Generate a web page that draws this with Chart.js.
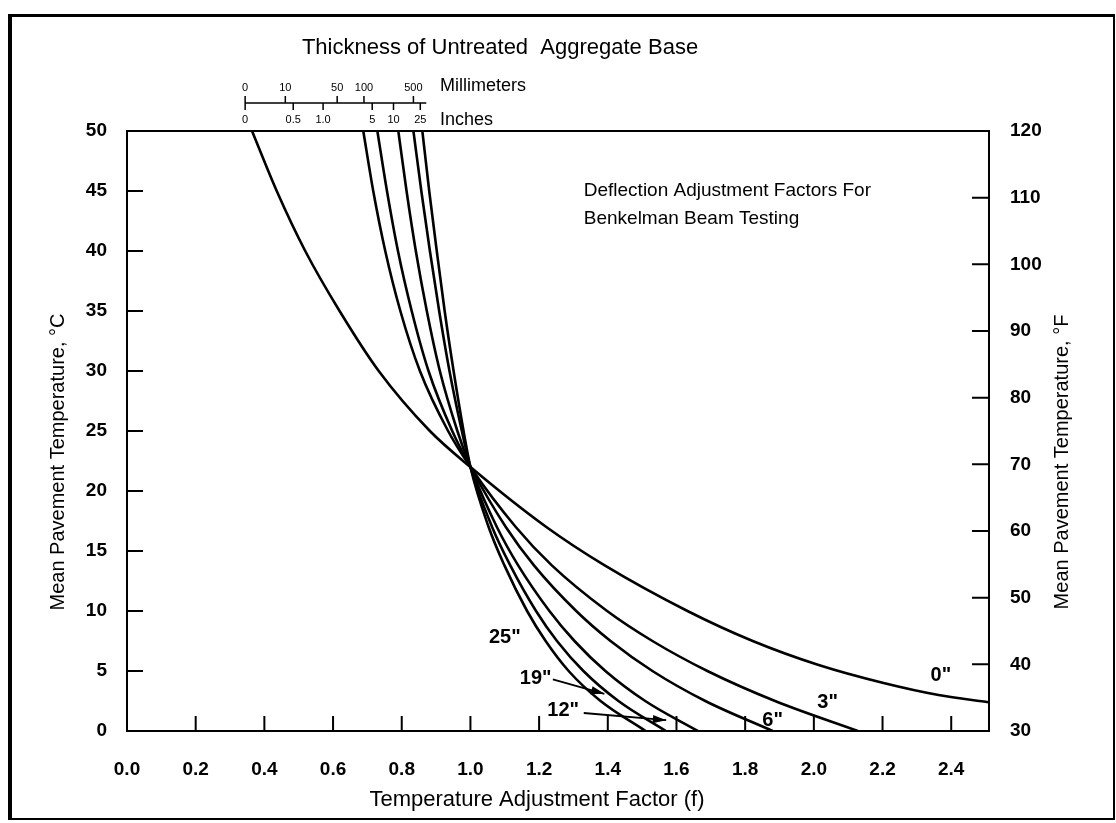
<!DOCTYPE html>
<html>
<head>
<meta charset="utf-8">
<script src="https://cdn.jsdelivr.net/npm/chart.js@4.4.1/dist/chart.umd.min.js"></script>
<style>
  html, body { margin: 0; padding: 0; background: #fff; }
  #wrap { position: relative; width: 1116px; height: 823px; overflow: hidden; }
  #frame {
    position: absolute; left: 8px; top: 14px; right: 1px; bottom: 3px;
    border-left: 4px solid #000; border-top: 3px solid #000;
    border-right: 2px solid #000; border-bottom: 2px solid #000;
    pointer-events: none;
  }
</style>
</head>
<body>
<div id="wrap">
  <canvas id="chart" width="1116" height="823"></canvas>
  <div id="frame"></div>
</div>
<script>
// temperature (deg C) against adjustment factor
const temps0 = [50, 45, 40, 35, 30, 25, 22, 17, 13.8, 10, 7.5, 5.5, 4, 3, 2.4];
const factor0 = [0.364, 0.436, 0.519, 0.619, 0.733, 0.882, 1.0, 1.221, 1.391, 1.632, 1.822, 2.014, 2.203, 2.363, 2.509];

const temps = [50, 45, 40, 35, 30, 25, 22, 17, 13.8, 10, 7.5, 5, 2.5, 0];
const factor3 = [0.688, 0.717, 0.752, 0.796, 0.853, 0.935, 1.0, 1.132, 1.237, 1.398, 1.53, 1.69, 1.887, 2.128];
const factor6 = [0.729, 0.757, 0.789, 0.829, 0.878, 0.947, 1.0, 1.103, 1.185, 1.308, 1.408, 1.53, 1.684, 1.88];
const factor12 = [0.79, 0.814, 0.841, 0.873, 0.911, 0.962, 1.0, 1.077, 1.139, 1.23, 1.303, 1.393, 1.509, 1.662];
const factor19 = [0.834, 0.857, 0.882, 0.909, 0.939, 0.975, 1.0, 1.063, 1.116, 1.191, 1.252, 1.329, 1.431, 1.569];
const factor25 = [0.86, 0.88, 0.902, 0.925, 0.951, 0.98, 1.0, 1.053, 1.099, 1.165, 1.219, 1.286, 1.379, 1.51];

const thicknesses = ['0"', '3"', '6"', '12"', '19"', '25"'];

// thickness nomograph above the plot (labels and the factor they sit over)
const mmLabels = ['0', '10', '50', '100', '500'];
const mmAt = [0.344, 0.461, 0.612, 0.69, 0.834];
const inchLabels = ['0', '0.5', '1.0', '5', '10', '25'];
const inchAt = [0.344, 0.484, 0.571, 0.714, 0.776, 0.854];

function series(t, f) {
  return t.map(function (v, i) { return { x: f[i], y: v }; });
}

const curves = [
  series(temps0, factor0),
  series(temps, factor3),
  series(temps, factor6),
  series(temps, factor12),
  series(temps, factor19),
  series(temps, factor25),
];

const FONT = '"Liberation Sans", Arial, sans-serif';

const decor = {
  id: 'decor',
  afterDatasetsDraw(chart) {
    const { ctx, chartArea: a, scales } = chart;
    const x = scales.x, y = scales.y, y2 = scales.y2;
    ctx.save();
    ctx.strokeStyle = '#000';
    ctx.fillStyle = '#000';
    ctx.lineWidth = 2;

    // top edge of the frame
    ctx.beginPath();
    ctx.moveTo(a.left, a.top);
    ctx.lineTo(a.right + 1, a.top);
    ctx.stroke();

    // inward tick marks
    ctx.beginPath();
    x.ticks.forEach(function (t) {
      if (t.value <= x.min) return;
      const px = x.getPixelForValue(t.value);
      ctx.moveTo(px, a.bottom);
      ctx.lineTo(px, a.bottom - 15);
    });
    y.ticks.forEach(function (t) {
      if (t.value <= y.min || t.value >= y.max) return;
      const py = y.getPixelForValue(t.value);
      ctx.moveTo(a.left, py);
      ctx.lineTo(a.left + 16, py);
    });
    y2.ticks.forEach(function (t) {
      if (t.value <= y2.min || t.value >= y2.max) return;
      const py = y2.getPixelForValue(t.value);
      ctx.moveTo(a.right, py);
      ctx.lineTo(a.right - 17, py);
    });
    ctx.stroke();

    // titles
    ctx.textBaseline = 'middle';
    ctx.textAlign = 'center';
    ctx.font = '22px ' + FONT;
    ctx.fillText('Thickness of Untreated  Aggregate Base', 500, 48);
    ctx.fillText('Temperature Adjustment Factor (f)', 537, 800);

    ctx.font = '20px ' + FONT;
    ctx.save();
    ctx.translate(58, 462);
    ctx.rotate(-Math.PI / 2);
    ctx.fillText('Mean Pavement Temperature, \u00b0C', 0, 0);
    ctx.restore();
    ctx.save();
    ctx.translate(1062, 462);
    ctx.rotate(-Math.PI / 2);
    ctx.fillText('Mean Pavement Temperature, \u00b0F', 0, 0);
    ctx.restore();

    ctx.textAlign = 'left';
    ctx.font = '19px ' + FONT;
    ctx.fillText('Deflection Adjustment Factors For', x.getPixelForValue(1.33), y.getPixelForValue(45.0));
    ctx.fillText('Benkelman Beam Testing', x.getPixelForValue(1.33), y.getPixelForValue(42.7));

    // thickness nomograph
    const lineY = 103;
    ctx.lineWidth = 1.5;
    ctx.beginPath();
    ctx.moveTo(x.getPixelForValue(mmAt[0]), lineY);
    ctx.lineTo(x.getPixelForValue(inchAt[inchAt.length - 1]) + 6, lineY);
    mmAt.forEach(function (f) {
      const px = x.getPixelForValue(f);
      ctx.moveTo(px, lineY);
      ctx.lineTo(px, lineY - 7);
    });
    inchAt.forEach(function (f) {
      const px = x.getPixelForValue(f);
      ctx.moveTo(px, lineY);
      ctx.lineTo(px, lineY + 7);
    });
    ctx.stroke();
    ctx.textAlign = 'center';
    ctx.font = '11px ' + FONT;
    mmLabels.forEach(function (s, i) { ctx.fillText(s, x.getPixelForValue(mmAt[i]), lineY - 15); });
    inchLabels.forEach(function (s, i) { ctx.fillText(s, x.getPixelForValue(inchAt[i]), lineY + 17); });
    ctx.textAlign = 'left';
    ctx.font = '18px ' + FONT;
    ctx.fillText('Millimeters', 440, lineY - 17);
    ctx.fillText('Inches', 440, lineY + 17);

    // curve labels
    ctx.font = 'bold 20px ' + FONT;
    ctx.textAlign = 'center';
    const labelAt = [[2.37, 4.6], [2.04, 2.4], [1.88, 0.9], [1.27, 1.7], [1.19, 4.4], [1.1, 7.8]];
    thicknesses.forEach(function (s, i) {
      ctx.fillText(s, x.getPixelForValue(labelAt[i][0]), y.getPixelForValue(labelAt[i][1]));
    });

    // pointer arrows for 19" and 12"
    function arrow(f1, t1, f2, t2) {
      const x1 = x.getPixelForValue(f1), y1 = y.getPixelForValue(t1);
      const x2 = x.getPixelForValue(f2), y2p = y.getPixelForValue(t2);
      const ang = Math.atan2(y2p - y1, x2 - x1);
      ctx.lineWidth = 1.8;
      ctx.beginPath();
      ctx.moveTo(x1, y1);
      ctx.lineTo(x2, y2p);
      ctx.stroke();
      ctx.beginPath();
      ctx.moveTo(x2, y2p);
      ctx.lineTo(x2 - 14 * Math.cos(ang - 0.3), y2p - 14 * Math.sin(ang - 0.3));
      ctx.lineTo(x2 - 14 * Math.cos(ang + 0.3), y2p - 14 * Math.sin(ang + 0.3));
      ctx.closePath();
      ctx.fill();
    }
    arrow(1.24, 4.3, 1.39, 3.1);
    arrow(1.33, 1.5, 1.57, 0.9);

    ctx.restore();
  }
};

new Chart(document.getElementById('chart'), {
  type: 'scatter',
  data: {
    datasets: curves.map(function (pts, i) {
      return {
        label: thicknesses[i],
        data: pts,
        showLine: true,
        borderColor: '#000',
        borderWidth: 2.6,
        pointRadius: 0,
        cubicInterpolationMode: 'monotone',
        yAxisID: 'y',
      };
    }),
  },
  options: {
    responsive: false,
    animation: false,
    devicePixelRatio: 1,
    layout: { padding: { top: 131, left: 0, right: 0, bottom: 0 } },
    plugins: {
      legend: { display: false },
      tooltip: { enabled: false },
    },
    scales: {
      x: {
        type: 'linear',
        position: 'bottom',
        min: 0,
        max: 2.51,
        afterFit: function (s) { s.height = 92; },
        grid: { display: false },
        border: { display: true, color: '#000', width: 2 },
        ticks: {
          stepSize: 0.2,
          includeBounds: false,
          padding: 19,
          color: '#000',
          font: { family: FONT, size: 19, weight: 'bold' },
          callback: function (v) { return v.toFixed(1); },
        },
      },
      y: {
        type: 'linear',
        position: 'left',
        min: 0,
        max: 50,
        afterFit: function (s) { s.width = 127; },
        grid: { display: false },
        border: { display: true, color: '#000', width: 2 },
        ticks: {
          stepSize: 5,
          padding: 12,
          color: '#000',
          font: { family: FONT, size: 19, weight: 'bold' },
        },
      },
      y2: {
        type: 'linear',
        position: 'right',
        min: 30,
        max: 120,
        afterFit: function (s) { s.width = 127; },
        grid: { display: false },
        border: { display: true, color: '#000', width: 2 },
        ticks: {
          stepSize: 10,
          padding: 13,
          color: '#000',
          font: { family: FONT, size: 19, weight: 'bold' },
        },
      },
    },
  },
  plugins: [decor],
});
</script>
</body>
</html>
